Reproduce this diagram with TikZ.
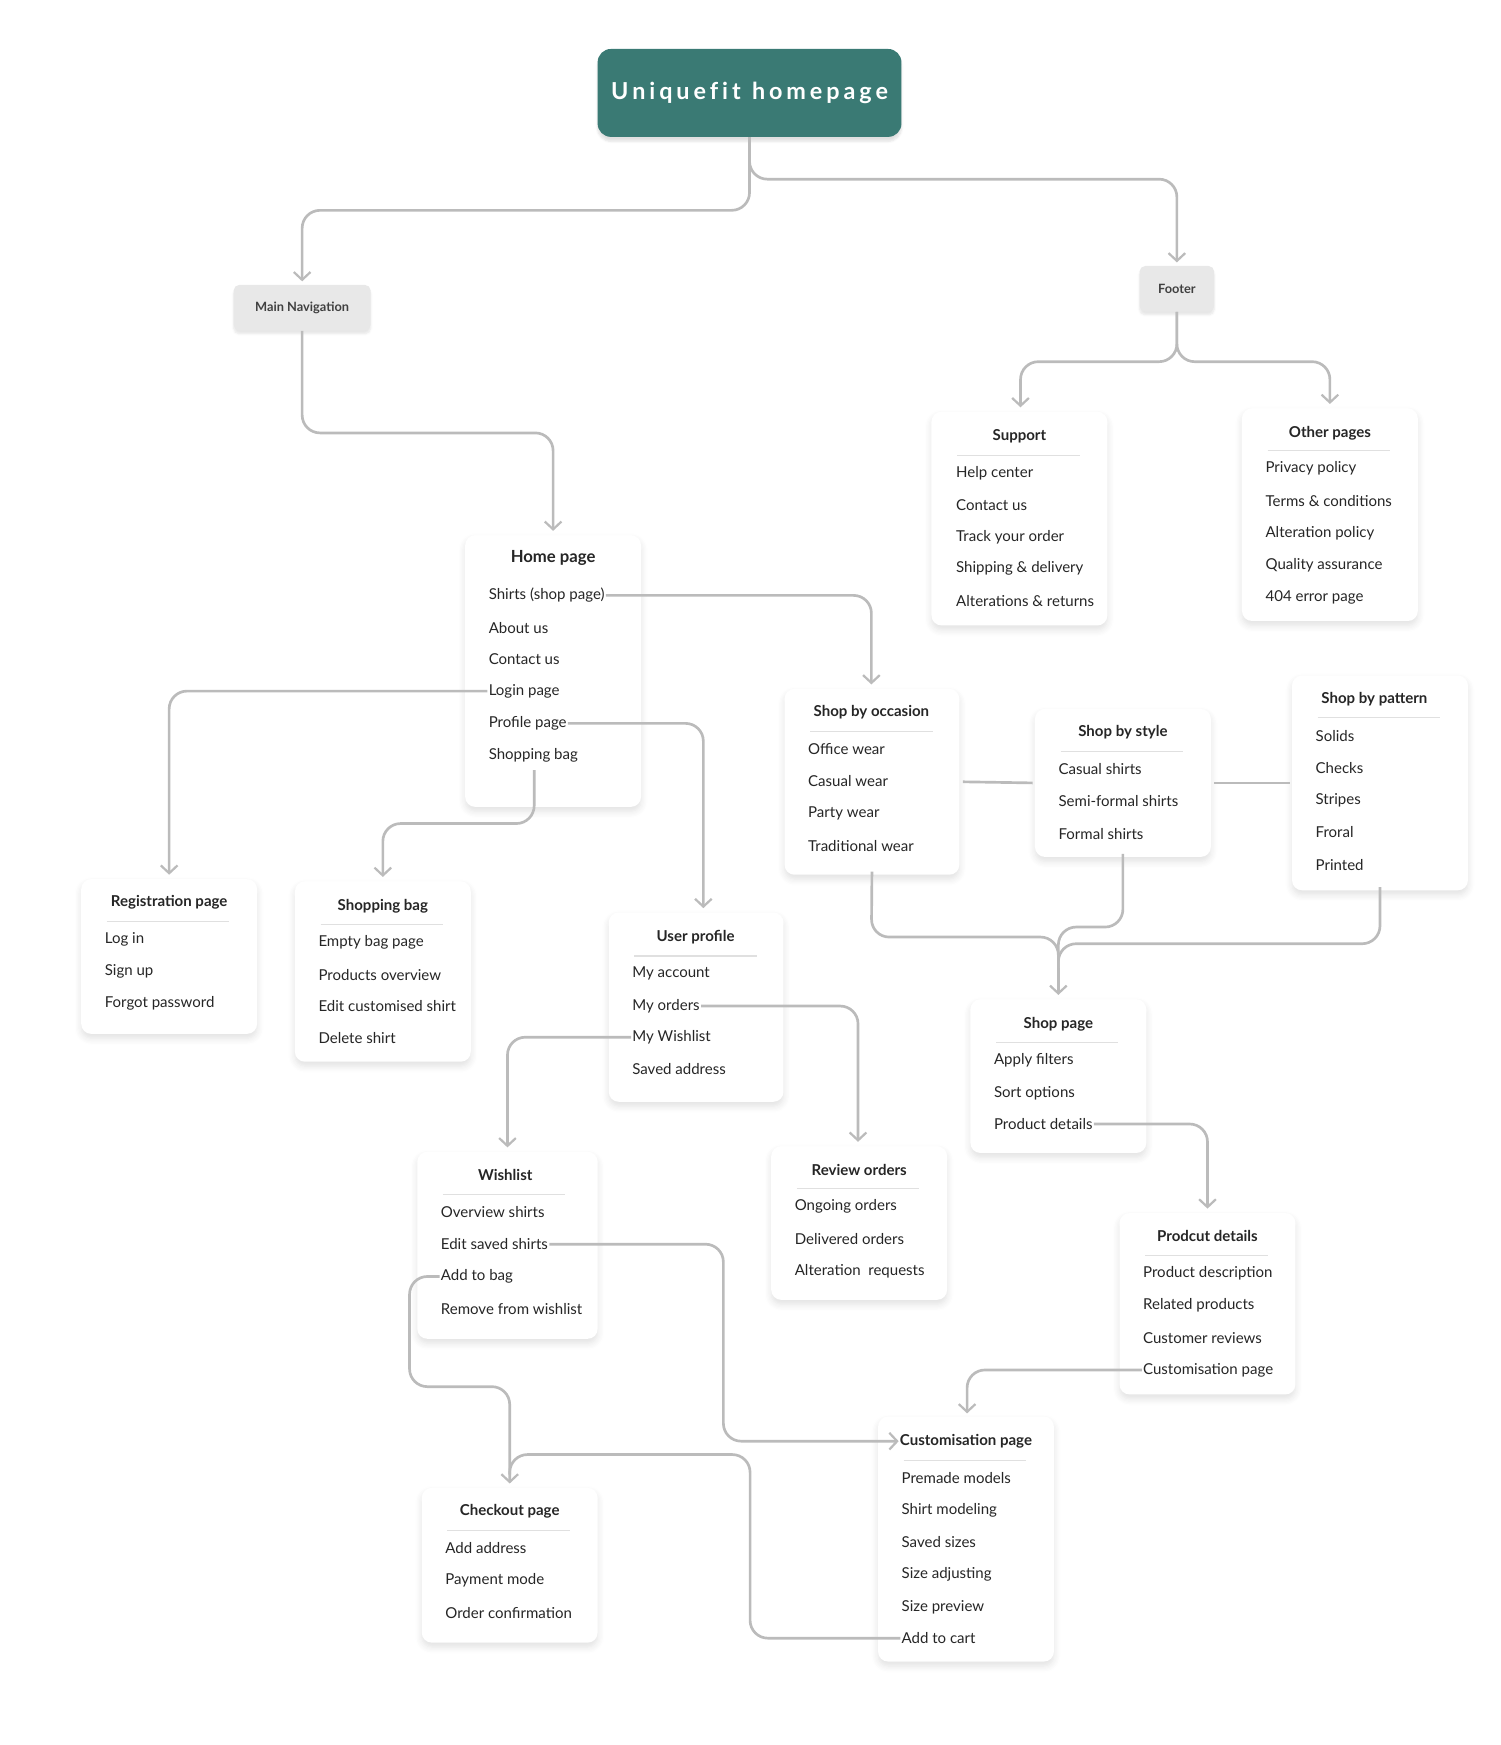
\documentclass[tikz,border=0pt]{standalone}
\usepackage{fontspec}
\setmainfont{Lato}
\usetikzlibrary{arrows.meta,shadows.blur}
\definecolor{teal}{HTML}{3A7A74}
\definecolor{ln}{HTML}{BBBBBB}
\begin{document}
\begin{tikzpicture}[x=1pt,y=-1pt,
 card/.style={fill=white,rounded corners=9,inner sep=0,blur shadow={shadow blur steps=6,shadow xshift=0pt,shadow yshift=-4pt,shadow opacity=12,shadow blur radius=6pt}},
 ttl/.style={font=\fontsize{13.5}{15}\selectfont\bfseries,text=black!85,inner sep=1pt},
 itm/.style={font=\fontsize{13.5}{15}\selectfont,text=black!85,anchor=west,inner sep=1pt},
 sep/.style={draw=black!12,line width=1pt},
 conn/.style={draw=ln,line width=2.4pt,rounded corners=16,-{Straight Barb[length=7pt,width=15pt,line width=2pt]}},
 line/.style={draw=ln,line width=2.4pt,rounded corners=16}]
\useasboundingbox (0,0) rectangle (1348,1568);
% top
\node[fill=teal,rounded corners=12,minimum width=273pt,minimum height=79pt,inner sep=0,text=white,font=\fontsize{21}{24}\selectfont\bfseries,blur shadow={shadow blur steps=6,shadow xshift=0pt,shadow yshift=-4pt,shadow opacity=12}] (hp) at (673.5,83.5) {U\,n\,i\,q\,u\,e\,f\,i\,t\ \ h\,o\,m\,e\,p\,a\,g\,e};
\node[fill=black!9,rounded corners=5,minimum width=123pt,minimum height=41pt,inner sep=0,font=\fontsize{11.5}{13}\selectfont\bfseries,text=black!75,blur shadow={shadow blur steps=5,shadow xshift=0pt,shadow yshift=-3pt,shadow opacity=10}] (nav) at (271.5,276.5) {Main Navigation};
\node[fill=black!9,rounded corners=5,minimum width=67pt,minimum height=41pt,inner sep=0,font=\fontsize{11.5}{13}\selectfont\bfseries,text=black!75,blur shadow={shadow blur steps=5,shadow xshift=0pt,shadow yshift=-3pt,shadow opacity=10}] (ft) at (1057.5,259.5) {Footer};
% Support
\node[card,minimum width=158pt,minimum height=192pt] (sup) at (916,466) {};
\node[ttl] (supT) at (916,392) {Support};
\draw[sep] (860,409)--(970,409);
\node[itm] (sup1) at (858,425) {Help center};
\node[itm] (sup2) at (858,454) {Contact us};
\node[itm] (sup3) at (858,483) {Track your order};
\node[itm] (sup4) at (858,511) {Shipping \& delivery};
\node[itm] (sup5) at (858,540) {Alterations \& returns};
% Other pages
\node[card,minimum width=158pt,minimum height=191pt] (oth) at (1195,462.5) {};
\node[ttl] (othT) at (1195,389) {Other pages};
\draw[sep] (1139,405)--(1249,405);
\node[itm] (oth1) at (1136,421) {Privacy policy};
\node[itm] (oth2) at (1136,450) {Terms \& conditions};
\node[itm] (oth3) at (1136,479) {Alteration policy};
\node[itm] (oth4) at (1136,508) {Quality assurance};
\node[itm] (oth5) at (1136,537) {404 error page};
% Home page
\node[card,minimum width=158pt,minimum height=244pt] (home) at (497,603) {};
\node[ttl,font=\fontsize{15}{17}\selectfont\bfseries] (homeT) at (497,501) {Home page};
\node[itm] (home1) at (438,535) {Shirts (shop page)};
\node[itm] (home2) at (438,564) {About us};
\node[itm] (home3) at (438,592) {Contact us};
\node[itm] (home4) at (438,621) {Login page};
\node[itm] (home5) at (438,650) {Profile page};
\node[itm] (home6) at (438,679) {Shopping bag};
% Shop by occasion
\node[card,minimum width=157pt,minimum height=167pt] (occ) at (783.5,702.5) {};
\node[ttl] (occT) at (783,640) {Shop by occasion};
\draw[sep] (728,657)--(838,657);
\node[itm] (occ1) at (725,673) {Office wear};
\node[itm] (occ2) at (725,702) {Casual wear};
\node[itm] (occ3) at (725,731) {Party wear};
\node[itm] (occ4) at (725,760) {Traditional wear};
% Shop by style
\node[card,minimum width=158pt,minimum height=133pt] (sty) at (1009,703.5) {};
\node[ttl] (styT) at (1009,658) {Shop by style};
\draw[sep] (953,675)--(1063,675);
\node[itm] (sty1) at (950,691) {Casual shirts};
\node[itm] (sty2) at (950,720) {Semi-formal shirts};
\node[itm] (sty3) at (950,749) {Formal shirts};
% Shop by pattern
\node[card,minimum width=158pt,minimum height=193pt] (pat) at (1240,703.5) {};
\node[ttl] (patT) at (1235,628) {Shop by pattern};
\draw[sep] (1184,645)--(1294,645);
\node[itm] (pat1) at (1181,661) {Solids};
\node[itm] (pat2) at (1181,690) {Checks};
\node[itm] (pat3) at (1181,719) {Stripes};
\node[itm] (pat4) at (1181,748) {Froral};
\node[itm] (pat5) at (1181,777) {Printed};
% Registration
\node[card,minimum width=158pt,minimum height=139pt] (reg) at (152,859.5) {};
\node[ttl] (regT) at (152,811) {Registration page};
\draw[sep] (96,828)--(206,828);
\node[itm] (reg1) at (93,844) {Log in};
\node[itm] (reg2) at (93,873) {Sign up};
\node[itm] (reg3) at (93,902) {Forgot password};
% Shopping bag
\node[card,minimum width=158pt,minimum height=162pt] (bag) at (344,873) {};
\node[ttl] (bagT) at (344,814) {Shopping bag};
\draw[sep] (288,831)--(398,831);
\node[itm] (bag1) at (285,847) {Empty bag page};
\node[itm] (bag2) at (285,876) {Products overview};
\node[itm] (bag3) at (285,904) {Edit customised shirt};
\node[itm] (bag4) at (285,933) {Delete shirt};
% User profile
\node[card,minimum width=157pt,minimum height=170pt] (usr) at (625.5,905) {};
\node[ttl] (usrT) at (625,842) {User profile};
\draw[sep] (570,859)--(680,859);
\node[itm] (usr1) at (567,875) {My account};
\node[itm] (usr2) at (567,904) {My orders};
\node[itm] (usr3) at (567,932) {My Wishlist};
\node[itm] (usr4) at (567,961) {Saved address};
% Shop page
\node[card,minimum width=158pt,minimum height=138pt] (shp) at (951,967) {};
\node[ttl] (shpT) at (951,920) {Shop page};
\draw[sep] (895,937)--(1005,937);
\node[itm] (shp1) at (892,953) {Apply filters};
\node[itm] (shp2) at (892,982) {Sort options};
\node[itm] (shp3) at (892,1010) {Product details};
% Wishlist
\node[card,minimum width=162pt,minimum height=168pt] (wl) at (456,1119) {};
\node[ttl] (wlT) at (454,1056) {Wishlist};
\draw[sep] (398,1073)--(508,1073);
\node[itm] (wl1) at (395,1089) {Overview shirts};
\node[itm] (wl2) at (395,1118) {Edit saved shirts};
\node[itm] (wl3) at (395,1147) {Add to bag};
\node[itm] (wl4) at (395,1176) {Remove from wishlist};
% Review orders
\node[card,minimum width=158pt,minimum height=138pt] (rev) at (772,1099) {};
\node[ttl] (revT) at (772,1051) {Review orders};
\draw[sep] (716,1068)--(826,1068);
\node[itm] (rev1) at (713,1084) {Ongoing orders};
\node[itm] (rev2) at (713,1113) {Delivered orders};
\node[itm] (rev3) at (713,1142) {Alteration\ \ requests};
% Product details
\node[card,minimum width=158pt,minimum height=163pt] (pd) at (1085,1171.5) {};
\node[ttl] (pdT) at (1085,1111) {Prodcut details};
\draw[sep] (1029,1128)--(1139,1128);
\node[itm] (pd1) at (1026,1144) {Product description};
\node[itm] (pd2) at (1026,1173) {Related products};
\node[itm] (pd3) at (1026,1202) {Customer reviews};
\node[itm] (pd4) at (1026,1231) {Customisation page};
% Customisation page
\node[card,minimum width=158pt,minimum height=220pt] (cus) at (868,1383) {};
\node[ttl] (cusT) at (868,1295) {Customisation page};
\draw[sep] (812,1312)--(922,1312);
\node[itm] (cus1) at (809,1328) {Premade models};
\node[itm] (cus2) at (809,1357) {Shirt modeling};
\node[itm] (cus3) at (809,1386) {Saved sizes};
\node[itm] (cus4) at (809,1415) {Size adjusting};
\node[itm] (cus5) at (809,1444) {Size preview};
\node[itm] (cus6) at (809,1472) {Add to cart};
% Checkout
\node[card,minimum width=158pt,minimum height=139pt] (chk) at (458,1406.5) {};
\node[ttl] (chkT) at (458,1358) {Checkout page};
\draw[sep] (402,1375)--(512,1375);
\node[itm] (chk1) at (399,1391) {Add address};
\node[itm] (chk2) at (399,1420) {Payment mode};
\node[itm] (chk3) at (399,1449) {Order confirmation};
% connectors
\draw[conn,shorten >=3pt] (hp.south) -- (673.5,189) -- (271.5,189) -- (nav.north);
\draw[conn,shorten >=3pt] (hp.south) -- (673.5,161) -- (1057.5,161) -- (ft.north);
\draw[conn] (nav.south) -- (271.5,389) -- (497,389) -- (497,477);
\draw[conn] (ft.south) -- (1057.5,325) -- (917,325) -- (917,366);
\draw[conn] (ft.south) -- (1057.5,325) -- (1195,325) -- (1195,363);
\draw[conn] (home1.east) -- (783,535) -- (783,615);
\draw[conn] (home4.west) -- (152,621) -- (152,786);
\draw[conn] (home5.east) -- (632,650) -- (632,816);
\draw[conn] (480,692) -- (480,740) -- (344,740) -- (344,788);
\draw[line] (occ.east) ++(3,0) -- ([xshift=-2pt]sty.west);
\draw[line] (sty.east) ++(3,0) -- ([xshift=-2pt]pat.west);
\draw[line] ([yshift=3pt]occ.south) -- (783,842) -- (951,842) -- (951,880);
\draw[line] ([yshift=3pt]sty.south) -- (1009,833) -- (951,833) -- (951,880);
\draw[line] ([yshift=3pt]pat.south) -- (1240,848) -- (951,848) -- (951,880);
\draw[conn] (951,870) -- (951,894);
\draw[conn] (usr2.east) -- (771,904) -- (771,1026);
\draw[conn] (usr3.west) -- (456,932) -- (456,1031);
\draw[conn] (shp3.east) -- (1085,1010) -- (1085,1086);
\draw[conn] (pd4.west) -- (869,1231) -- (869,1270);
\draw[conn] (wl2.east) -- (650,1118) -- (650,1295) -- (cusT.west);
\draw[conn] (wl3.west) -- (368,1147) -- (368,1246) -- (458,1246) -- (458,1333);
\draw[line] (cus6.west) -- (674,1472) -- (674,1307) -- (458,1307) -- (458,1325);
\end{tikzpicture}
\end{document}
